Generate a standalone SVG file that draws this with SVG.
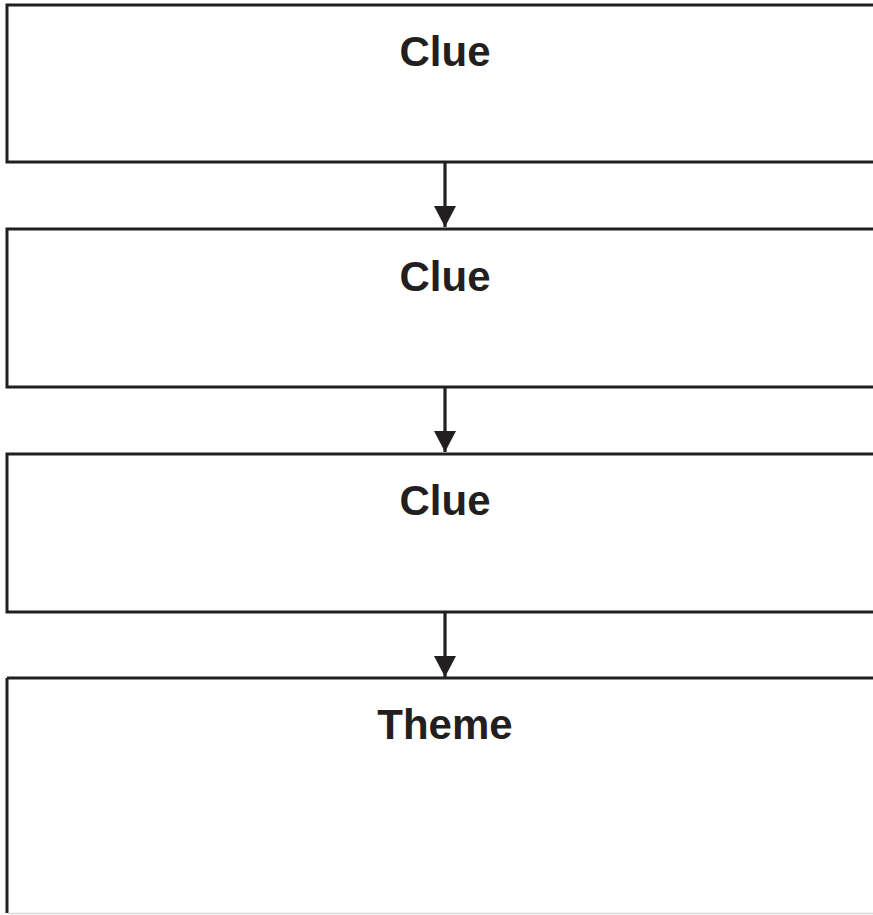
<svg xmlns="http://www.w3.org/2000/svg" width="873" height="915" viewBox="0 0 873 915">
<style>
.box{fill:#fff;stroke:#231f20;stroke-width:3}
.lbl{font-family:"Liberation Sans",Arial,sans-serif;font-weight:bold;font-size:42px;fill:#231f20;text-anchor:middle}
.conn{stroke:#231f20;stroke-width:3.2;fill:none}
</style>
<defs>
<marker id="ah" markerUnits="userSpaceOnUse" markerWidth="22" markerHeight="22" refX="20" refY="10.5" orient="auto" viewBox="0 0 20 21">
<path d="M0,0 L20,10.5 L0,21 Z" fill="#231f20"/>
</marker>
</defs>
<rect width="873" height="915" fill="#fff"/>
<g id="clue1"><rect class="box" x="7" y="5" width="880" height="157"/><text class="lbl" x="445" y="66">Clue</text></g>
<g id="clue2"><rect class="box" x="7" y="229" width="880" height="158"/><text class="lbl" x="445" y="291">Clue</text></g>
<g id="clue3"><rect class="box" x="7" y="454" width="880" height="158"/><text class="lbl" x="445" y="515">Clue</text></g>
<g id="theme"><path d="M7,678 H880 M7,678 V913" class="box" fill="none"/><line x1="8" y1="913.5" x2="873" y2="913.5" stroke="#d8d8d8" stroke-width="1.5"/><text class="lbl" x="445" y="739">Theme</text></g>
<g id="connectors">
<line class="conn" x1="445" y1="163" x2="445" y2="227" marker-end="url(#ah)"/>
<line class="conn" x1="445" y1="388" x2="445" y2="452" marker-end="url(#ah)"/>
<line class="conn" x1="445" y1="613" x2="445" y2="677" marker-end="url(#ah)"/>
</g>
</svg>
